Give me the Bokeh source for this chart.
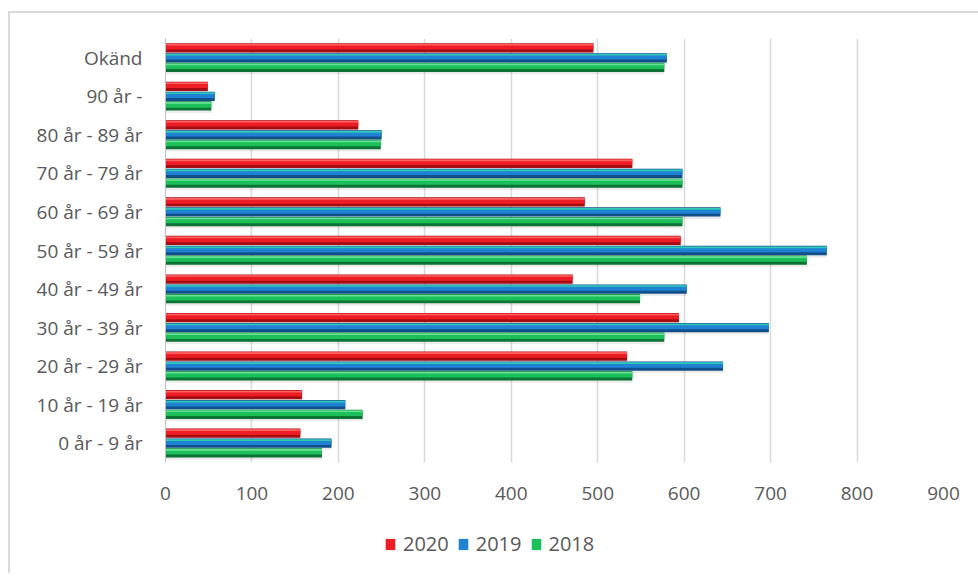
from bokeh.plotting import figure
from bokeh.layouts import column
from bokeh.models import ColumnDataSource, Range1d, FixedTicker, Legend, LegendItem
from bokeh.transform import dodge
from bokeh.embed import file_html
from bokeh.resources import INLINE

categories = ["0 år - 9 år", "10 år - 19 år", "20 år - 29 år", "30 år - 39 år",
              "40 år - 49 år", "50 år - 59 år", "60 år - 69 år", "70 år - 79 år",
              "80 år - 89 år", "90 år -", "Okänd"]
y2020 = [156, 158, 534, 594, 471, 596, 485, 540, 223, 49, 495]
y2019 = [192, 208, 645, 698, 603, 765, 642, 598, 250, 57, 580]
y2018 = [181, 228, 540, 577, 549, 742, 598, 598, 249, 53, 577]
x_ticks = [0, 100, 200, 300, 400, 500, 600, 700, 800, 900]
series_names = ["2020", "2019", "2018"]

src = ColumnDataSource(dict(cat=categories, y2020=y2020, y2019=y2019, y2018=y2018))

FONT = "Open Sans"
TXT = "#595959"

p = figure(width=968, height=500, y_range=categories, x_range=Range1d(0, 900),
           output_backend="svg", toolbar_location=None,
           min_border_left=155, min_border_right=35, min_border_top=25, min_border_bottom=51)
p.outline_line_color = None
p.background_fill_color = "white"
p.border_fill_color = "white"

p.ygrid.grid_line_color = None
p.xgrid.grid_line_color = "#d9d9d9"
p.xgrid.grid_line_width = 1.5
p.xaxis.ticker = FixedTicker(ticks=x_ticks)
p.xaxis.axis_line_color = None
p.xaxis.major_tick_line_color = None
p.xaxis.minor_tick_line_color = None
p.xaxis.major_label_standoff = 18
p.yaxis.axis_line_color = "#bfbfbf"
p.yaxis.axis_line_width = 1
p.yaxis.major_tick_line_color = None
p.yaxis.minor_tick_line_color = None
p.yaxis.major_label_standoff = 17
for ax in (p.xaxis, p.yaxis):
    ax.major_label_text_font = FONT
    ax.major_label_text_font_size = "19px"
    ax.major_label_text_color = TXT

H = 0.24
styles = [
    ("y2020", 0.26, "#a50d12", "#ee1c24", "#ff6b6b"),
    ("y2019", 0.0, "#0f4f8a", "#1f82d2", "#32d0b0"),
    ("y2018", -0.25, "#0b7333", "#1dbf5a", "#6fe69a"),
]
for (col, off, dark, main, light), name in zip(styles, series_names):
    p.hbar(y=dodge("cat", off - 0.06, range=p.y_range), right=col, left=0, height=H,
           source=src, fill_color="#000000", fill_alpha=0.08, line_color=None)
    p.hbar(y=dodge("cat", off, range=p.y_range), right=col, left=0, height=H,
           source=src, fill_color=dark, line_color=None)
    p.hbar(y=dodge("cat", off + 0.03, range=p.y_range), right=col, left=0, height=H * 0.62,
           source=src, fill_color=main, line_color=None)
    p.hbar(y=dodge("cat", off + H * 0.33, range=p.y_range), right=col, left=0, height=H * 0.18,
           source=src, fill_color=light, line_color=None, fill_alpha=0.9)

# legend strip: hidden renderers, only the legend shows
lf = figure(width=968, height=60, y_range=categories, x_range=Range1d(0, 900),
            output_backend="svg", toolbar_location=None,
            x_axis_location=None, y_axis_location=None,
            min_border_left=0, min_border_right=0, min_border_top=0, min_border_bottom=0)
lf.outline_line_color = None
lf.xgrid.grid_line_color = None
lf.ygrid.grid_line_color = None
items = []
for (col, off, dark, main, light), name in zip(styles, series_names):
    r = lf.hbar(y="cat", right=col, left=0, height=H, source=src,
                fill_color=main, line_color=None, visible=False)
    items.append(LegendItem(label=name, renderers=[r]))
legend = Legend(items=items, orientation="horizontal", location=(219, 16),
                label_text_font=FONT, label_text_font_size="20px", label_text_color=TXT,
                glyph_width=12, glyph_height=14, label_standoff=7, spacing=8,
                padding=0, margin=0, border_line_color=None, background_fill_alpha=0,
                inactive_fill_alpha=0)
lf.add_layout(legend, "center")

layout = column(p, lf, spacing=0)
layout.styles = {"margin-left": "8px", "margin-top": "11px",
                 "border-top": "2px solid #d9d9d9", "border-left": "2px solid #d9d9d9"}

open("out.html", "w").write(file_html(layout, INLINE))
